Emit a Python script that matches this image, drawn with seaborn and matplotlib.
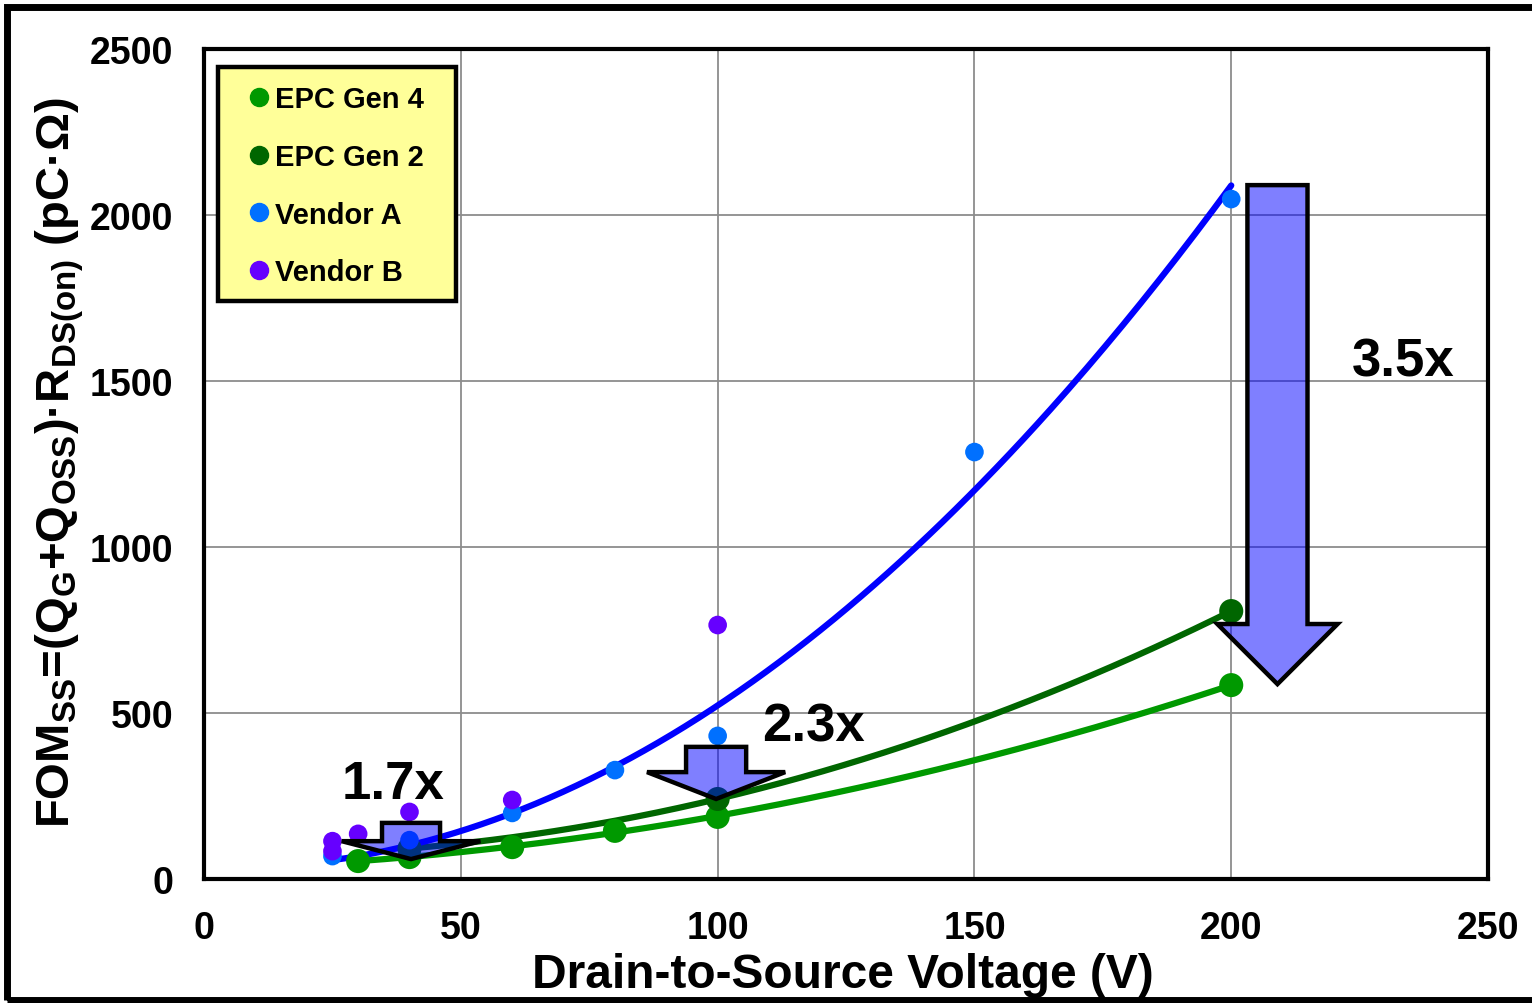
import numpy as np
import pandas as pd
import matplotlib
matplotlib.use("Agg")
import matplotlib.pyplot as plt
import seaborn as sns
from matplotlib.patches import FancyArrow, Rectangle
from matplotlib.lines import Line2D

# ---------------- data ----------------
gen4_v = [30, 40, 60, 80, 100, 200]
gen4_fom = [54, 66, 96, 145, 187, 584]
gen2_v = [40, 100, 200]
gen2_fom = [92, 241, 807]
venA_v = [25, 40, 60, 80, 100, 150, 200]
venA_fom = [69, 117, 199, 328, 431, 1286, 2048]
venB_v = [25, 25, 30, 40, 60, 100]
venB_fom = [84, 114, 136, 202, 238, 765]

series_names = ["EPC Gen 4", "EPC Gen 2", "Vendor A", "Vendor B"]
point_colors = ["#009900", "#006600", "#0070FF", "#6600FF"]
line_colors = ["#009900", "#006600", "#0000FF", None]

x_ticks = [0, 50, 100, 150, 200, 250]
y_ticks = [0, 500, 1000, 1500, 2000, 2500]

# improvement arrows: (x, top, tip, shaft width, head width, head length, label, label x, label y)
arrows = [
    (209.0, 2090, 587, 11.7, 23.4, 181, "3.5x", 233.4, 1560),
    (99.7, 398, 241, 11.7, 26.9, 81, "2.3x", 118.6, 458),
    (40.3, 169, 60, 11.3, 27.0, 54, "1.7x", 36.8, 286),
]

# ---------------- style ----------------
sns.set_theme(style="white")
plt.rcParams["font.family"] = ["Liberation Sans", "DejaVu Sans"]
plt.rcParams["font.weight"] = "bold"
plt.rcParams["text.color"] = "black"
plt.rcParams["axes.labelcolor"] = "black"
plt.rcParams["xtick.color"] = "black"
plt.rcParams["ytick.color"] = "black"
plt.rcParams["mathtext.fontset"] = "custom"
plt.rcParams["mathtext.rm"] = "Liberation Sans:bold"
plt.rcParams["mathtext.it"] = "Liberation Sans:bold"
plt.rcParams["mathtext.bf"] = "Liberation Sans:bold"

fig = plt.figure(figsize=(15.32, 10.04), dpi=100)
ax = fig.add_axes([0.1332, 0.1235, 0.8381, 0.8267])

frames = []
for name, v, f in zip(series_names,
                      [gen4_v, gen2_v, venA_v, venB_v],
                      [gen4_fom, gen2_fom, venA_fom, venB_fom]):
    frames.append(pd.DataFrame({"series": name, "V": v, "FOM": f}))
df = pd.concat(frames, ignore_index=True)

# trend lines (quadratic fits of each series)
for name, lc in zip(series_names, line_colors):
    if lc is None:
        continue
    sub = df[df.series == name]
    coef = np.polyfit(sub.V, sub.FOM, 2)
    xs = np.linspace(sub.V.min(), sub.V.max(), 200)
    sns.lineplot(x=xs, y=np.polyval(coef, xs), ax=ax, color=lc,
                 lw=4.5, zorder=3)

sizes = {"EPC Gen 4": 300, "EPC Gen 2": 300, "Vendor A": 180, "Vendor B": 180}
for name, pc in zip(series_names, point_colors):
    sub = df[df.series == name]
    sns.scatterplot(data=sub, x="V", y="FOM", ax=ax, color=pc, s=sizes[name],
                    edgecolor="none", zorder=4, legend=False)

# arrows + labels
for (x, top, tip, w, hw, hl, lab, lx, ly) in arrows:
    ax.add_patch(FancyArrow(x, top, 0, tip - top, width=w, head_width=hw,
                            head_length=hl, length_includes_head=True,
                            facecolor=(0, 0, 1, 0.5), edgecolor="black",
                            lw=3.2, zorder=5, joinstyle="miter"))
    ax.text(lx, ly, lab, fontsize=38, fontweight="bold", ha="center",
            va="center", zorder=6, color="black")

ax.set_xlim(0, 250)
ax.set_ylim(0, 2500)
ax.set_xticks(x_ticks)
ax.set_yticks(y_ticks)
ax.tick_params(length=0, labelsize=27, pad=22, colors="black")
for lab in ax.get_xticklabels() + ax.get_yticklabels():
    lab.set_fontweight("bold")
ax.grid(True, color="#8c8c8c", lw=1.3)
ax.set_axisbelow(True)
for sp in ax.spines.values():
    sp.set_color("black")
    sp.set_linewidth(3)

ax.set_xlabel("Drain-to-Source Voltage (V)", fontsize=34.5, fontweight="bold",
              color="black")
ax.xaxis.set_label_coords(0.4977, -0.088)
ax.set_ylabel("FOM$_{SS}$=(Q$_{G}$+Q$_{OSS}$)·R$_{DS(on)}$ (pC·Ω)",
              fontsize=34, fontweight="bold", color="black")
ax.yaxis.set_label_coords(-0.092, 0.503)

# legend box (yellow, drawn separately so padding can match the original)
ax.add_patch(Rectangle((0.0109, 0.6964), 0.1853, 0.2816, transform=ax.transAxes,
                       facecolor="#FFFF99", edgecolor="black", lw=3.2,
                       zorder=6))
handles = [Line2D([], [], marker="o", ls="", color=c, markersize=13)
           for c in point_colors]
leg = ax.legend(handles, series_names, loc="upper left",
                bbox_to_anchor=(0.0354, 0.9565), borderaxespad=0, borderpad=0,
                prop={"size": 21, "weight": "bold"}, handlelength=0.65,
                handletextpad=0.22, labelspacing=1.02, frameon=False,
                labelcolor="black")
leg.set_zorder(7)

# outer chart frame
fig.patches.append(Rectangle((0.0046, 0.003), 1.2, 0.9895,
                             transform=fig.transFigure, fill=False,
                             edgecolor="black", lw=5))

fig.savefig("out.png", dpi=100)
